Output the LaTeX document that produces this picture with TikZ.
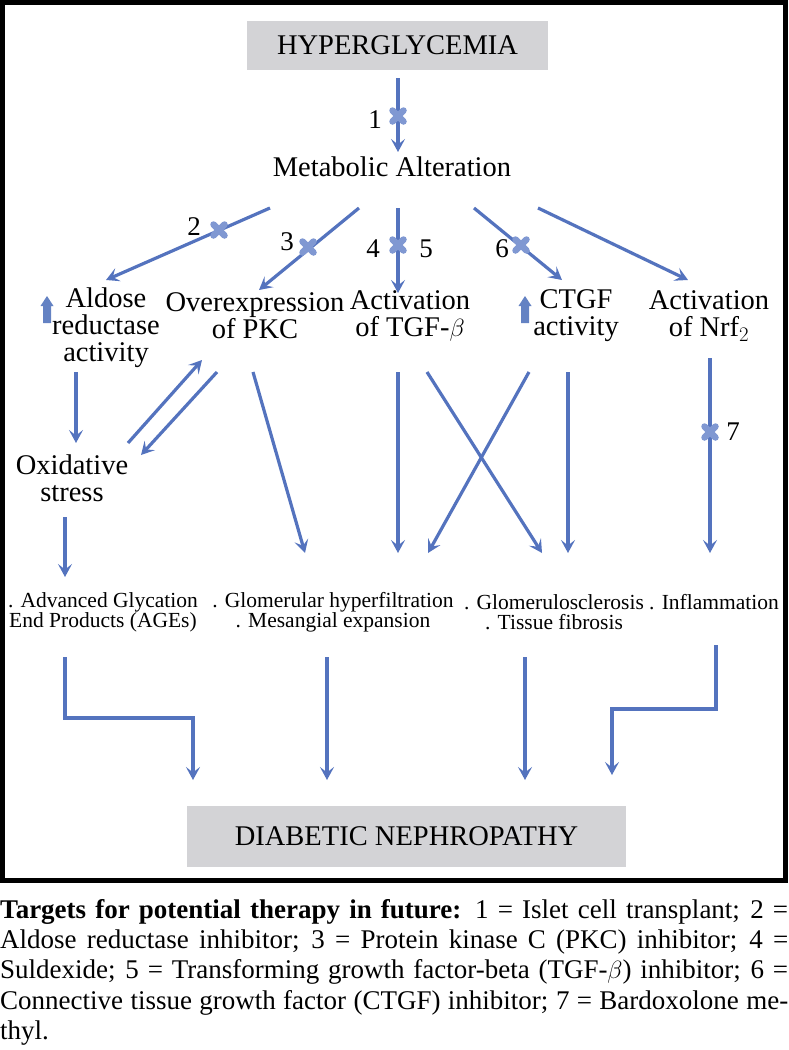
\documentclass[tikz,border=0pt]{standalone}
\usepackage{fontspec}
\setmainfont{Liberation Serif}
\usetikzlibrary{arrows.meta}
\definecolor{arr}{RGB}{84,115,190}
\definecolor{xcol}{RGB}{128,152,210}
\definecolor{upcol}{RGB}{100,130,195}
\definecolor{boxgray}{RGB}{211,211,214}
\tikzset{
  flow/.style={draw=arr, line width=3.2pt, line join=miter,
    -{Stealth[length=13pt,width=14pt,inset=5.5pt]}},
  lbl/.style={font=\fontsize{28.5}{27}\selectfont, align=center, inner sep=0pt},
  sm/.style={font=\fontsize{21.5}{20}\selectfont, align=center, inner sep=0pt},
  num/.style={font=\fontsize{27}{27}\selectfont, inner sep=0pt},
  xmark/.style={minimum size=18pt, inner sep=0pt, path picture={
      \draw[xcol, line width=6.5pt, line cap=round]
        ([shift={(3.5pt,3.5pt)}]path picture bounding box.south west) --
        ([shift={(-3.5pt,-3.5pt)}]path picture bounding box.north east)
        ([shift={(3.5pt,-3.5pt)}]path picture bounding box.north west) --
        ([shift={(-3.5pt,3.5pt)}]path picture bounding box.south east);}},
  graybox/.style={fill=boxgray, inner sep=0pt, font=\fontsize{28.5}{28}\selectfont},
  frame/.style={draw=black, line width=5pt},
  upmark/.style={fill=upcol}
}
\begin{document}
\begin{tikzpicture}[x=1pt, y=-1pt]
\useasboundingbox (0,0) rectangle (788,1050);
\draw[frame] (2.5,2.5) rectangle (785.5,880);

% boxes
\node[graybox, minimum width=301pt, minimum height=49pt] (hyper) at (397.5,45.5) {HYPERGLYCEMIA};
\node[graybox, minimum width=439pt, minimum height=61pt] (dn) at (406.5,836.5) {DIABETIC NEPHROPATHY};

% labels
\node[lbl] (meta) at (392,167) {Metabolic Alteration};
\node[lbl] (aldose) at (106,328) {Aldose\\reductase\\activity};
\node[lbl] (pkc) at (255,316) {Overexpression\\of PKC};
\node[lbl] (tgf) at (410,316) {Activation\\of TGF-$\beta$};
\node[lbl] (ctgf) at (576,316) {CTGF\\activity};
\node[lbl] (nrf) at (709,316) {Activation\\of Nrf$_2$};
\node[lbl] (ox) at (72,478) {Oxidative\\stress};

\node[sm] (ages) at (103,612) {. Advanced Glycation\\End Products (AGEs)};
\node[sm] (glom) at (333,612) {. Glomerular hyperfiltration\\. Mesangial expansion};
\node[sm] (gsc) at (554,612) {. Glomerulosclerosis\\. Tissue fibrosis};
\node[sm] (infl) at (714,602) {. Inflammation};

% up block arrows
\fill[upmark] (43,323) -- (43,306) -- (40.5,306) -- (47,296) -- (53.5,306) -- (51,306) -- (51,323) -- cycle;
\fill[upmark] (521,323) -- (521,306) -- (518.5,306) -- (525,296) -- (531.5,306) -- (529,306) -- (529,323) -- cycle;

% coordinates
\coordinate (h1) at (398,78);   \coordinate (m1t) at (398,152);
\coordinate (s2) at (270,208);  \coordinate (e2) at (106,280);
\coordinate (s3) at (359,208);  \coordinate (e3) at (259,290);
\coordinate (s4) at (398,208);  \coordinate (e4) at (398,293);
\coordinate (s6) at (474,208);  \coordinate (e6) at (562,280);
\coordinate (s7) at (538,208);  \coordinate (e7) at (688,280);
\coordinate (ald1) at (76,372); \coordinate (ald2) at (76,443);
\coordinate (ox1) at (128,443); \coordinate (pk1) at (202,360);
\coordinate (pk2) at (217,372); \coordinate (ox2) at (141,455);
\coordinate (pk3) at (253,372); \coordinate (gl1) at (305,553);
\coordinate (tg1) at (398,372); \coordinate (gl2) at (398,553);
\coordinate (tg2) at (427,372); \coordinate (gs1) at (542,553);
\coordinate (ct1) at (529,372); \coordinate (gl3) at (428,553);
\coordinate (ct2) at (568,372); \coordinate (gs2) at (568,553);
\coordinate (nr1) at (710,358); \coordinate (in1) at (710,553);
\coordinate (ox3) at (65,517);  \coordinate (ag1) at (65,577);
\coordinate (ag2) at (65,657);  \coordinate (dn1) at (193,780);
\coordinate (gl4) at (327,657); \coordinate (dn2) at (327,780);
\coordinate (gs3) at (525,657); \coordinate (dn3) at (525,780);
\coordinate (in2) at (716,645); \coordinate (dn4) at (612,775);

% arrows
\draw[flow] (h1) -- (m1t);
\draw[flow] (s2) -- (e2);
\draw[flow] (s3) -- (e3);
\draw[flow] (s4) -- (e4);
\draw[flow] (s6) -- (e6);
\draw[flow] (s7) -- (e7);
\draw[flow] (ald1) -- (ald2);
\draw[flow] (ox1) -- (pk1);
\draw[flow] (pk2) -- (ox2);
\draw[flow] (pk3) -- (gl1);
\draw[flow] (tg1) -- (gl2);
\draw[flow] (tg2) -- (gs1);
\draw[flow] (ct1) -- (gl3);
\draw[flow] (ct2) -- (gs2);
\draw[flow] (nr1) -- (in1);
\draw[flow] (ox3) -- (ag1);
\draw[flow] (ag2) |- (129,718) -| (dn1);
\draw[flow] (gl4) -- (dn2);
\draw[flow] (gs3) -- (dn3);
\draw[flow] (in2) |- (664,709) -| (dn4);

% inhibition markers
\node[xmark] (x1) at (398,116) {};
\node[xmark] (x2) at (219,230) {};
\node[xmark] (x3) at (308,247) {};
\node[xmark] (x4) at (398,245) {};
\node[xmark] (x6) at (521,245) {};
\node[xmark] (x7) at (710,432) {};
\node[num] (n1) at (375,120) {1};
\node[num] (n2) at (194,227) {2};
\node[num] (n3) at (287,242) {3};
\node[num] (n4) at (373,249) {4};
\node[num] (n5) at (426,249) {5};
\node[num] (n6) at (502,249) {6};
\node[num] (n7) at (733,432) {7};

% caption
\node[anchor=north west, inner sep=0pt, text width=788pt, align=justify,
      font=\fontsize{27}{30.3}\selectfont] (cap) at (0,899)
{\textbf{Targets for potential therapy in future:} 1 = Islet cell transplant; 2 =\linebreak
Aldose reductase inhibitor; 3 = Protein kinase C (PKC) inhibitor; 4 =\linebreak
Suldexide; 5 = Transforming growth factor-beta (TGF-$\beta$) inhibitor; 6 =\linebreak
Connective tissue growth factor (CTGF) inhibitor; 7 = Bardoxolone me-\linebreak
thyl.};
\end{tikzpicture}
\end{document}
